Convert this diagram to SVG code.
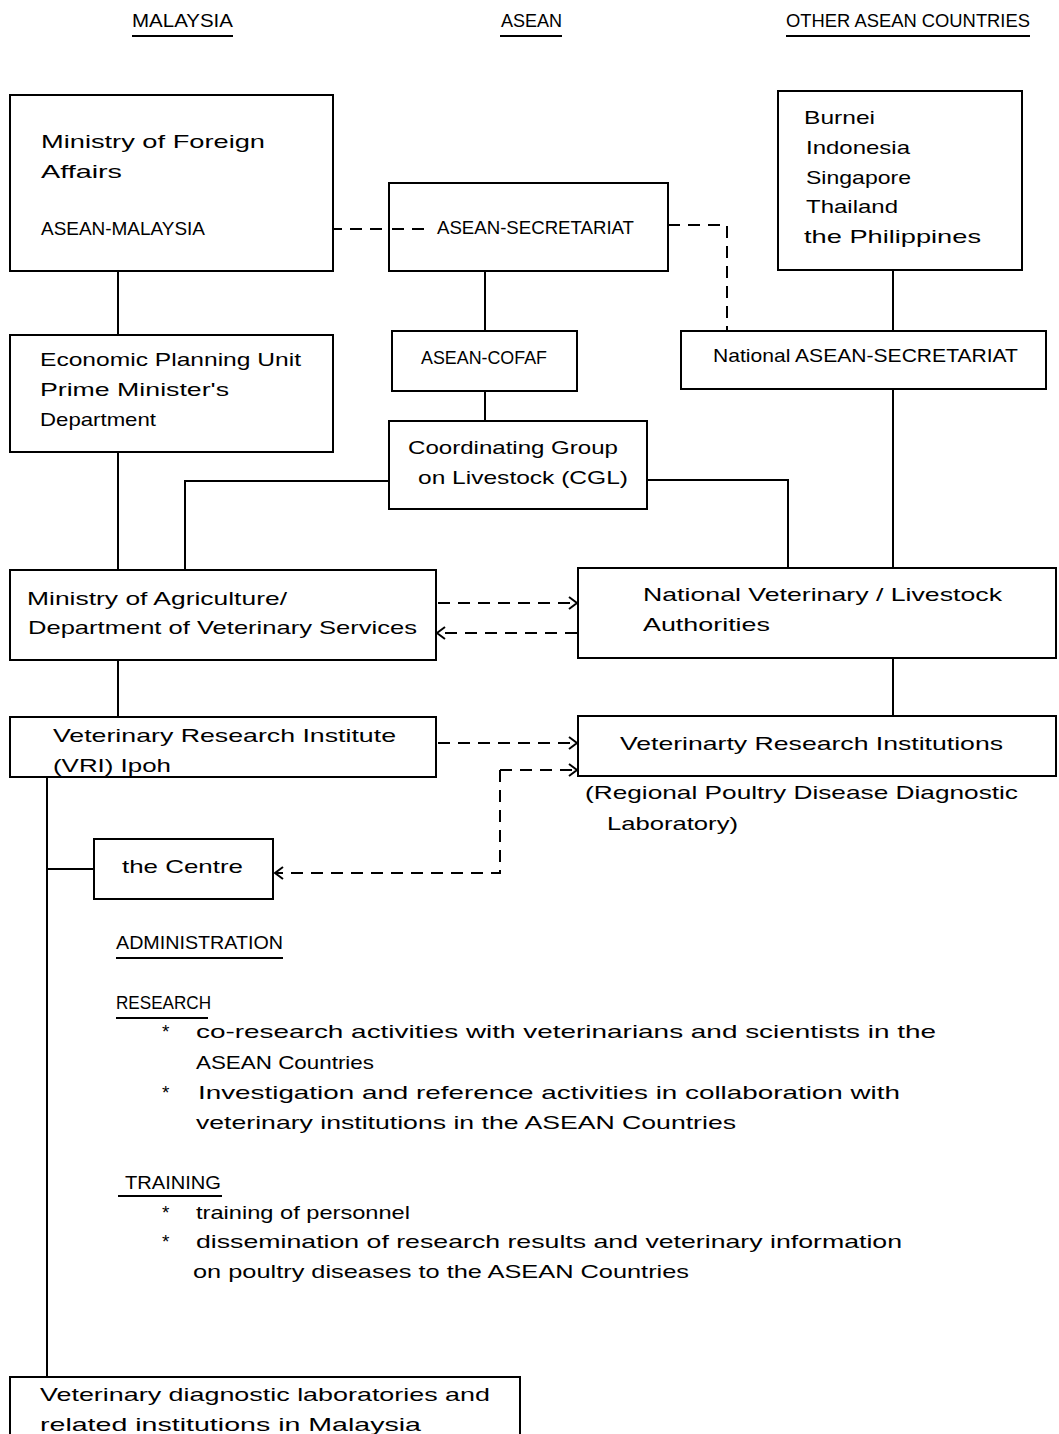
<svg xmlns="http://www.w3.org/2000/svg" width="1059" height="1434" viewBox="0 0 1059 1434">
<defs>
<style>
text{font-family:"Liberation Sans",Arial,sans-serif;font-size:19px;fill:#000}
.h{font-size:19px}
.box{fill:#fff;stroke:#000;stroke-width:2}
.ln{fill:none;stroke:#000;stroke-width:2}
.ds{fill:none;stroke:#000;stroke-width:2;stroke-dasharray:12 8}
.ul{stroke:#000;stroke-width:2}
</style>
<marker id="ah" viewBox="0 0 10 14" refX="9" refY="7" markerWidth="10" markerHeight="14" markerUnits="userSpaceOnUse" orient="auto">
<path d="M1,1 L9,7 L1,13" fill="none" stroke="#000" stroke-width="2"/>
</marker>
</defs>
<rect width="1059" height="1434" fill="#fff"/>

<g id="headers">
<text class="h" x="132" y="27" textLength="101" lengthAdjust="spacingAndGlyphs">MALAYSIA</text>
<line class="ul" x1="132" y1="36" x2="233" y2="36"/>
<text class="h" x="501" y="27" textLength="61" lengthAdjust="spacingAndGlyphs">ASEAN</text>
<line class="ul" x1="500" y1="36" x2="562" y2="36"/>
<text class="h" x="786" y="27" textLength="244" lengthAdjust="spacingAndGlyphs">OTHER ASEAN COUNTRIES</text>
<line class="ul" x1="786" y1="36" x2="1030" y2="36"/>
</g>

<g id="connectors">
<line class="ln" x1="118" y1="271" x2="118" y2="335"/>
<line class="ln" x1="485" y1="271" x2="485" y2="331"/>
<line class="ln" x1="485" y1="391" x2="485" y2="421"/>
<line class="ln" x1="893" y1="270" x2="893" y2="331"/>
<line class="ln" x1="118" y1="452" x2="118" y2="570"/>
<polyline class="ln" points="389,481 185,481 185,570"/>
<polyline class="ln" points="647,480 788,480 788,568"/>
<line class="ln" x1="893" y1="389" x2="893" y2="568"/>
<line class="ln" x1="118" y1="660" x2="118" y2="717"/>
<line class="ln" x1="893" y1="658" x2="893" y2="716"/>
<line class="ln" x1="47" y1="777" x2="47" y2="1377"/>
<line class="ln" x1="47" y1="869" x2="94" y2="869"/>
<line class="ds" x1="210" y1="229" x2="432" y2="229"/>
<polyline class="ds" points="668,225 727,225 727,331"/>
<line class="ds" x1="438" y1="603" x2="577" y2="603" marker-end="url(#ah)"/>
<line class="ds" x1="577" y1="633" x2="437" y2="633" marker-end="url(#ah)"/>
<line class="ds" x1="438" y1="743" x2="577" y2="743" marker-end="url(#ah)"/>
<polyline class="ds" points="500,770 500,873 275,873" marker-end="url(#ah)"/>
<line class="ds" x1="500" y1="770" x2="577" y2="770" marker-end="url(#ah)"/>
</g>

<g id="mfa">
<rect class="box" x="10" y="95" width="323" height="176"/>
<text x="41" y="148" textLength="224" lengthAdjust="spacingAndGlyphs">Ministry of Foreign</text>
<text x="41" y="178" textLength="81" lengthAdjust="spacingAndGlyphs">Affairs</text>
<text x="41" y="235" textLength="164" lengthAdjust="spacingAndGlyphs">ASEAN-MALAYSIA</text>
</g>

<g id="asean-sec">
<rect class="box" x="389" y="183" width="279" height="88"/>
<text x="437" y="234" textLength="197" lengthAdjust="spacingAndGlyphs">ASEAN-SECRETARIAT</text>
</g>
<line class="ds" x1="392" y1="229" x2="432" y2="229"/>

<g id="countries">
<rect class="box" x="778" y="91" width="244" height="179"/>
<text x="804" y="124" textLength="71" lengthAdjust="spacingAndGlyphs">Burnei</text>
<text x="806" y="154" textLength="104" lengthAdjust="spacingAndGlyphs">Indonesia</text>
<text x="806" y="184" textLength="105" lengthAdjust="spacingAndGlyphs">Singapore</text>
<text x="806" y="213" textLength="92" lengthAdjust="spacingAndGlyphs">Thailand</text>
<text x="804" y="243" textLength="177" lengthAdjust="spacingAndGlyphs">the Philippines</text>
</g>

<g id="epu">
<rect class="box" x="10" y="335" width="323" height="117"/>
<text x="40" y="366" textLength="261" lengthAdjust="spacingAndGlyphs">Economic Planning Unit</text>
<text x="40" y="396" textLength="189" lengthAdjust="spacingAndGlyphs">Prime Minister's</text>
<text x="40" y="426" textLength="116" lengthAdjust="spacingAndGlyphs">Department</text>
</g>

<g id="cofaf">
<rect class="box" x="392" y="331" width="185" height="60"/>
<text x="421" y="364" textLength="126" lengthAdjust="spacingAndGlyphs">ASEAN-COFAF</text>
</g>

<g id="nat-sec">
<rect class="box" x="681" y="331" width="365" height="58"/>
<text x="713" y="362" textLength="305" lengthAdjust="spacingAndGlyphs">National ASEAN-SECRETARIAT</text>
</g>

<g id="cgl">
<rect class="box" x="389" y="421" width="258" height="88"/>
<text x="408" y="454" textLength="210" lengthAdjust="spacingAndGlyphs">Coordinating Group</text>
<text x="418" y="484" textLength="210" lengthAdjust="spacingAndGlyphs">on Livestock (CGL)</text>
</g>

<g id="moa">
<rect class="box" x="10" y="570" width="426" height="90"/>
<text x="27" y="605" textLength="260" lengthAdjust="spacingAndGlyphs">Ministry of Agriculture/</text>
<text x="28" y="634" textLength="389" lengthAdjust="spacingAndGlyphs">Department of Veterinary Services</text>
</g>

<g id="nvla">
<rect class="box" x="578" y="568" width="478" height="90"/>
<text x="643" y="601" textLength="359" lengthAdjust="spacingAndGlyphs">National Veterinary / Livestock</text>
<text x="643" y="631" textLength="127" lengthAdjust="spacingAndGlyphs">Authorities</text>
</g>

<g id="vri">
<rect class="box" x="10" y="717" width="426" height="60"/>
<text x="53" y="742" textLength="343" lengthAdjust="spacingAndGlyphs">Veterinary Research Institute</text>
<text x="53" y="772" textLength="118" lengthAdjust="spacingAndGlyphs">(VRI) Ipoh</text>
</g>

<g id="vrc">
<rect class="box" x="578" y="716" width="478" height="60"/>
<text x="620" y="750" textLength="383" lengthAdjust="spacingAndGlyphs">Veterinarty Research Institutions</text>
<text x="585" y="799" textLength="433" lengthAdjust="spacingAndGlyphs">(Regional Poultry Disease Diagnostic</text>
<text x="607" y="830" textLength="131" lengthAdjust="spacingAndGlyphs">Laboratory)</text>
</g>

<g id="centre">
<rect class="box" x="94" y="839" width="179" height="60"/>
<text x="122" y="873" textLength="121" lengthAdjust="spacingAndGlyphs">the Centre</text>
</g>

<g id="functions">
<text class="h" x="116" y="949" textLength="167" lengthAdjust="spacingAndGlyphs">ADMINISTRATION</text>
<line class="ul" x1="116" y1="958" x2="283" y2="958"/>
<text class="h" x="116" y="1009" textLength="95" lengthAdjust="spacingAndGlyphs">RESEARCH</text>
<line class="ul" x1="116" y1="1018" x2="208" y2="1018"/>
<text x="162" y="1038">*</text>
<text x="196" y="1038" textLength="740" lengthAdjust="spacingAndGlyphs">co-research activities with veterinarians and scientists in the</text>
<text x="196" y="1069" textLength="178" lengthAdjust="spacingAndGlyphs">ASEAN Countries</text>
<text x="162" y="1099">*</text>
<text x="198" y="1099" textLength="702" lengthAdjust="spacingAndGlyphs">Investigation and reference activities in collaboration with</text>
<text x="196" y="1129" textLength="540" lengthAdjust="spacingAndGlyphs">veterinary institutions in the ASEAN Countries</text>
<text class="h" x="125" y="1189" textLength="96" lengthAdjust="spacingAndGlyphs">TRAINING</text>
<line class="ul" x1="118" y1="1196" x2="222" y2="1196"/>
<text x="162" y="1219">*</text>
<text x="196" y="1219" textLength="214" lengthAdjust="spacingAndGlyphs">training of personnel</text>
<text x="162" y="1248">*</text>
<text x="196" y="1248" textLength="706" lengthAdjust="spacingAndGlyphs">dissemination of research results and veterinary information</text>
<text x="193" y="1278" textLength="496" lengthAdjust="spacingAndGlyphs">on poultry diseases to the ASEAN Countries</text>
</g>

<g id="labs">
<path class="ln" d="M10,1440 L10,1377 L520,1377 L520,1440"/>
<text x="40" y="1401" textLength="450" lengthAdjust="spacingAndGlyphs">Veterinary diagnostic laboratories and</text>
<text x="40" y="1431" textLength="381" lengthAdjust="spacingAndGlyphs">related institutions in Malaysia</text>
</g>
</svg>
